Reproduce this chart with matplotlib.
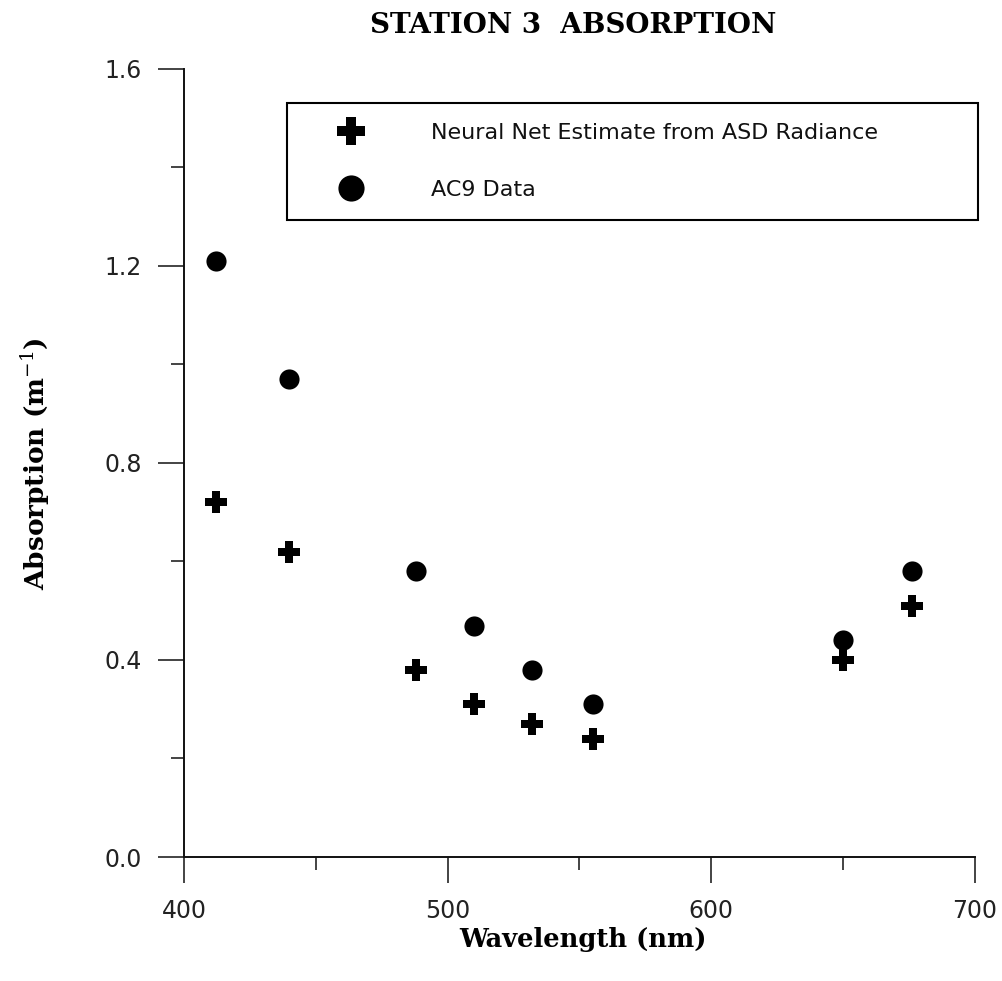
import numpy as np
from matplotlib import pyplot as plt
from matplotlib.ticker import MultipleLocator

# wavelengths (nm)
wavelength = [412, 440, 488, 510, 532, 555, 650, 676]

# absorption (m^-1)
neural_net = [0.72, 0.62, 0.38, 0.31, 0.27, 0.24, 0.40, 0.51]
ac9_data = [1.21, 0.97, 0.58, 0.47, 0.38, 0.31, 0.44, 0.58]

x_ticks = [400, 500, 600, 700]
y_ticks = [0.0, 0.4, 0.8, 1.2, 1.6]

serif = ['DejaVu Serif']
plt.rcParams['mathtext.fontset'] = 'dejavuserif'

fig = plt.figure(figsize=(10.03, 9.81), dpi=100)
ax = fig.add_axes([0.1834, 0.1264, 0.7886, 0.8033])

ax.plot(wavelength, neural_net, 'P', color='black', markersize=16,
        markeredgewidth=0, label='Neural Net Estimate from ASD Radiance')
ax.plot(wavelength, ac9_data, 'o', color='black', markersize=14.5,
        markeredgewidth=0, label='AC9 Data')

ax.set_xlim(400, 700)
ax.set_ylim(0, 1.6)
ax.set_xticks(x_ticks)
ax.set_yticks(y_ticks)
ax.set_xticklabels([str(v) for v in x_ticks])
ax.set_yticklabels(['%.1f' % v for v in y_ticks])
ax.xaxis.set_minor_locator(MultipleLocator(50))
ax.yaxis.set_minor_locator(MultipleLocator(0.2))

for side in ['top', 'right']:
    ax.spines[side].set_visible(False)
for side in ['left', 'bottom']:
    ax.spines[side].set_linewidth(1.4)
    ax.spines[side].set_color('#111111')

ax.tick_params(which='major', direction='out', length=18.5, width=1.1,
               pad=12, labelsize=17, labelcolor='#222222', color='#111111')
ax.tick_params(which='minor', direction='out', length=9.4, width=1.1,
               color='#111111')

fig.text(0.571, 0.974, 'STATION 3  ABSORPTION', ha='center', va='center',
         fontsize=20, fontweight='bold', family=serif)
fig.text(0.581, 0.042, 'Wavelength (nm)', ha='center', va='center',
         fontsize=18.5, fontweight='bold', family=serif)
fig.text(0.035, 0.527, 'Absorption (m$^{-1}$)', ha='center', va='center',
         rotation=90, fontsize=19, fontweight='bold', family=serif)

leg = ax.legend(loc='upper left', bbox_to_anchor=(0.130, 0.957, 0.874, 0.0),
                mode='expand', borderaxespad=0, fontsize=16, frameon=True,
                fancybox=False, framealpha=1, edgecolor='black',
                borderpad=0.9, handlelength=4.0, handletextpad=1.6,
                labelspacing=1.67, markerscale=1.3)
leg.get_frame().set_linewidth(1.5)
for t in leg.get_texts():
    t.set_color('#111111')

fig.savefig('out.png', dpi=100, facecolor='white')
